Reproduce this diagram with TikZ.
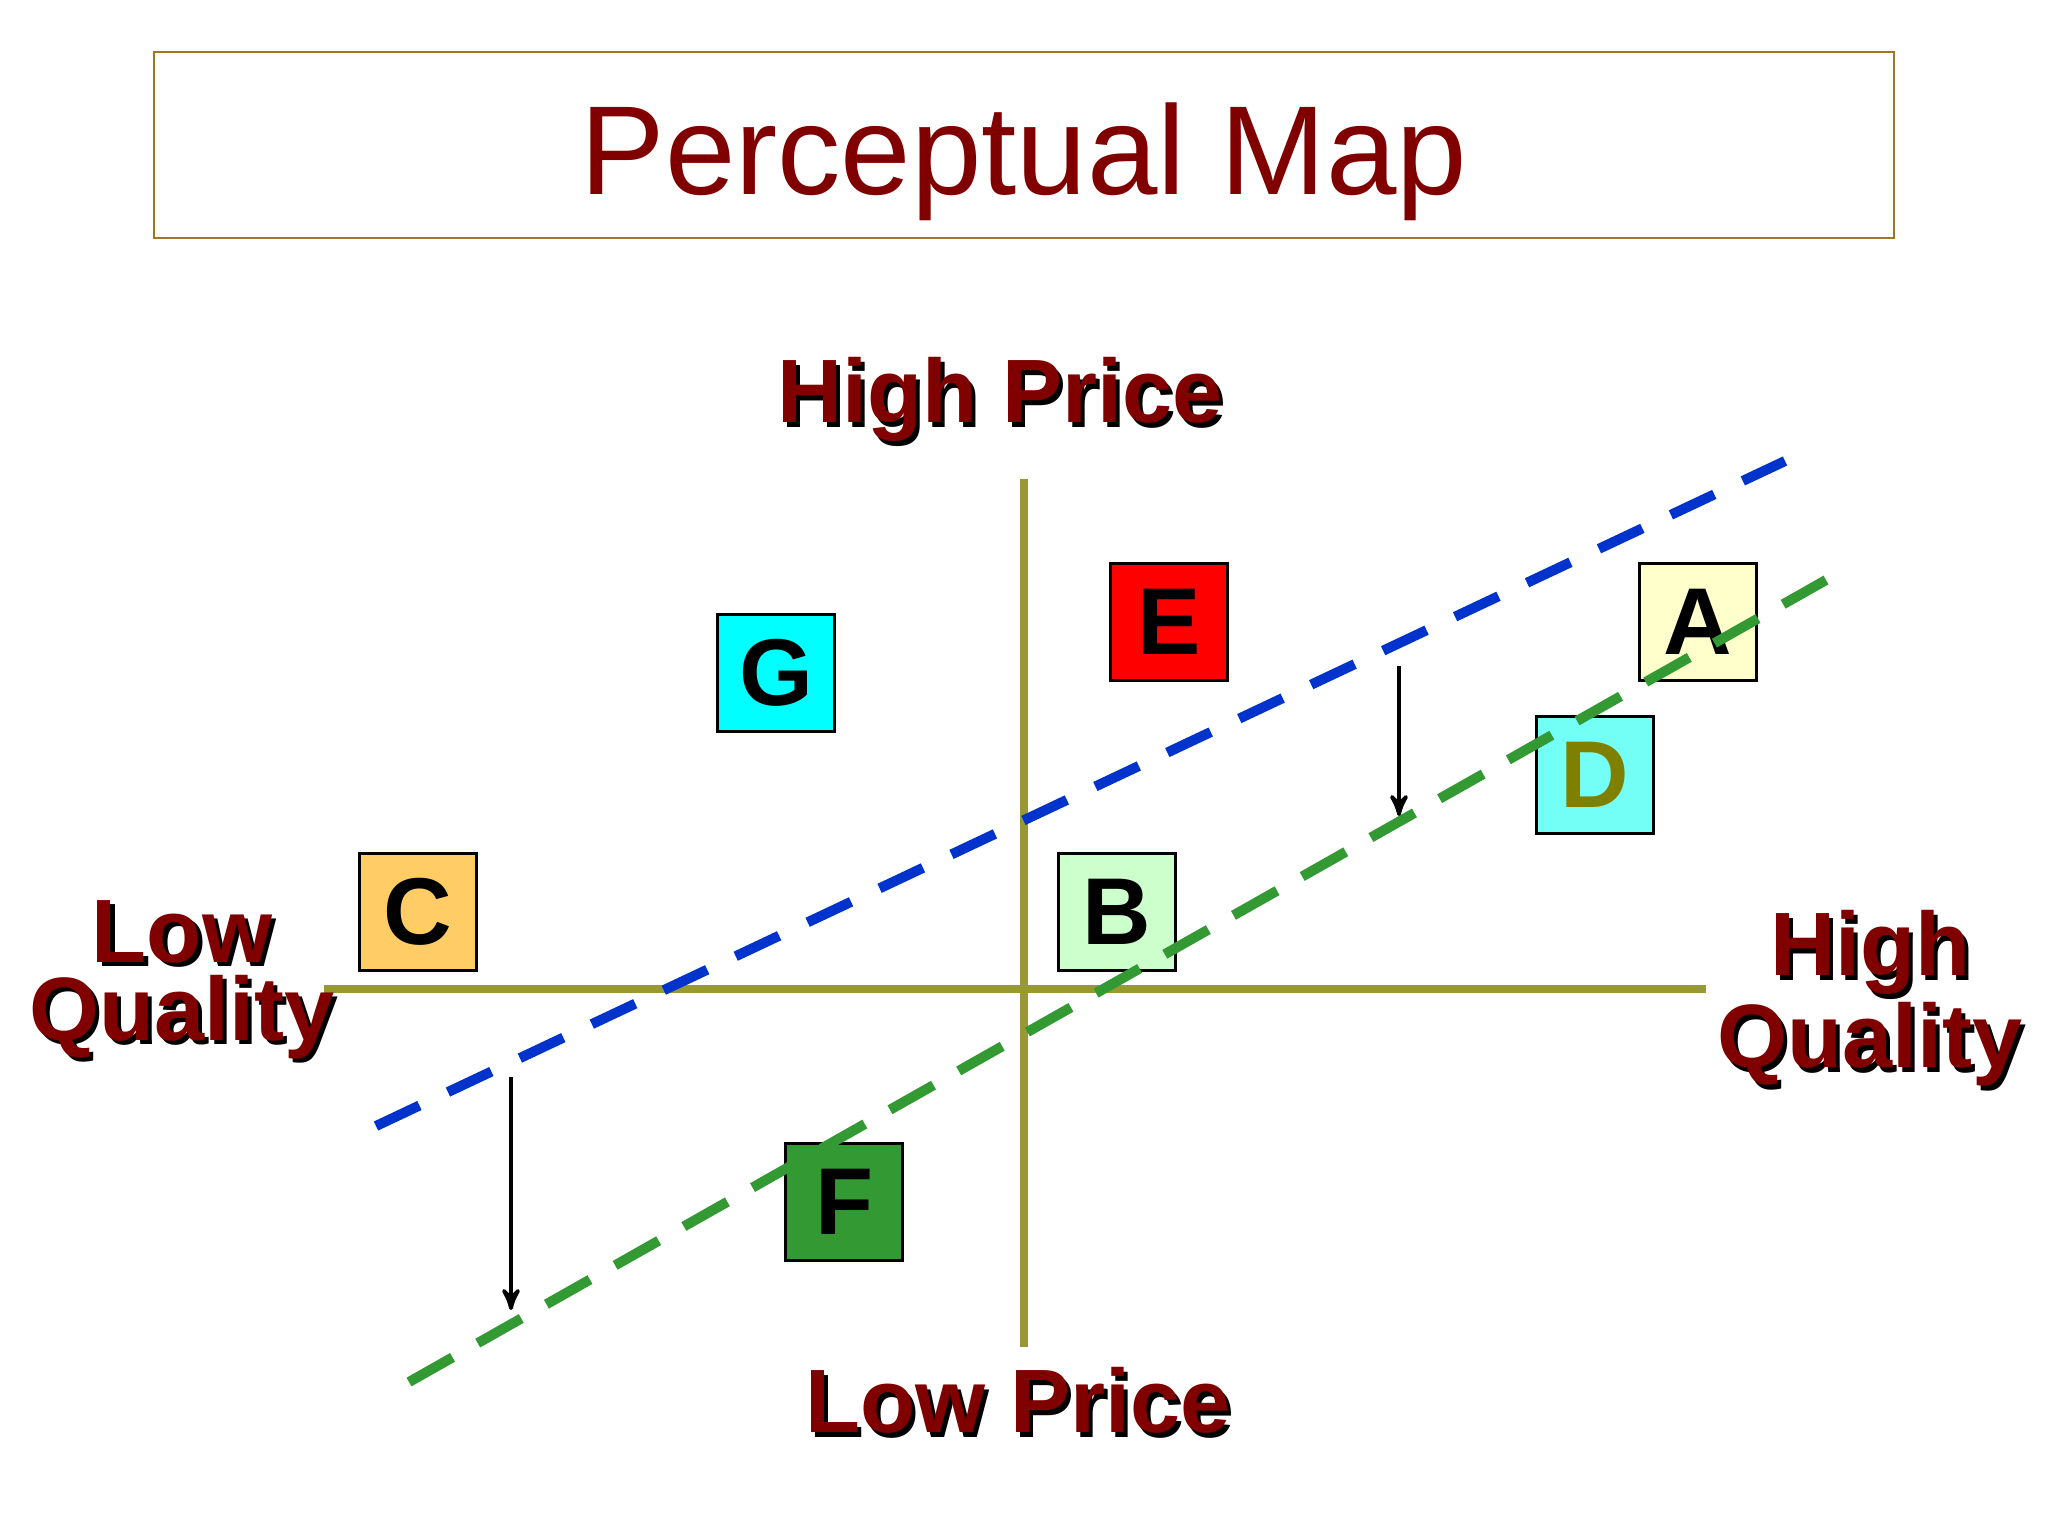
\documentclass[tikz,border=0pt]{standalone}
\usepackage{fontspec}
\setmainfont{Liberation Sans}
\usetikzlibrary{arrows, positioning}

\definecolor{mapred}{HTML}{800000}
\definecolor{mapframe}{HTML}{A07820}
\definecolor{axisolive}{HTML}{999933}
\definecolor{lineblue}{HTML}{0033CC}
\definecolor{linegreen}{HTML}{339933}
\definecolor{olivetext}{HTML}{808000}
\definecolor{brandcyan}{HTML}{00FFFF}

\newcommand{\shadowed}[1]{\rlap{\hspace{1.2pt}\raisebox{-1.2pt}{\color{black}#1}}#1}

\begin{document}
\begin{tikzpicture}[x=0.01cm, y=-0.01cm, >=stealth',
    brand/.style={rectangle, draw, line width=0.75pt, minimum size=1.17cm, inner sep=0pt,
      font=\fontsize{27pt}{27pt}\selectfont\bfseries},
    axislabel/.style={text=mapred, inner sep=0pt, align=center,
      font=\fontsize{25.6pt}{22.2pt}\selectfont\bfseries},
    axisline/.style={axisolive, line width=2.3pt},
    segment/.style={line width=2.85pt}]
  \useasboundingbox[fill=white] (0,0) rectangle (2048,1536);

  % Title
  \draw[mapframe, line width=0.6pt] (154,52) rectangle (1894,238);
  \node[anchor=base, text=mapred, inner sep=0pt, font=\fontsize{36pt}{40pt}\selectfont] (title) at (1024,194) {Perceptual Map};

  % Axes
  \coordinate (hleft) at (324,989);
  \coordinate (hright) at (1706,989);
  \coordinate (vtop) at (1024,479);
  \coordinate (vbot) at (1024,1347);
  \draw[axisline] (hleft) -- (hright);
  \draw[axisline] (vtop) -- (vbot);

  % Axis labels
  \node[axislabel, above=0.32cm of vtop, xshift=-0.24cm] (highprice) {\shadowed{High Price}};
  \node[axislabel, below=0.2cm of vbot, xshift=-0.06cm] (lowprice) {\shadowed{Low Price}};
  \node[axislabel, anchor=north] (lowqual) at (182,900) {\shadowed{Low}\\\shadowed{Quality}};
  \node[axislabel, anchor=north] (highqual) at (1870,910) {\shadowed{High}\\\shadowed{Quality}};

  % Brands
  \node[brand, fill=brandcyan] (brandG) at (776,673) {G};
  \node[brand, fill=red] (brandE) at (1169,622) {E};
  \node[brand, fill={rgb,255:red,255;green,255;blue,204}] (brandA) at (1698,622) {A};
  \node[brand, fill={rgb,255:red,115;green,255;blue,245}, text=olivetext] (brandD) at (1595,775) {D};
  \node[brand, fill={rgb,255:red,255;green,204;blue,102}] (brandC) at (418,912) {C};
  \node[brand, fill={rgb,255:red,204;green,255;blue,204}] (brandB) at (1117,912) {B};
  \node[brand, fill=linegreen] (brandF) at (844,1202) {F};

  % Dashed lines
  \coordinate (blue1) at (376,1126);
  \coordinate (blue2) at (1785,461);
  \coordinate (green1) at (409,1382);
  \coordinate (green2) at (1826,580);
  \draw[segment, lineblue, dash pattern=on 13.66pt off 8.96pt] (blue1) -- (blue2);
  \draw[segment, linegreen, dash pattern=on 14.23pt off 8.22pt] (green1) -- (green2);

  % Shift arrows
  \coordinate (shiftL1) at (511,1077);
  \coordinate (shiftL2) at (511,1310);
  \coordinate (shiftR1) at (1399,666);
  \coordinate (shiftR2) at (1399,816);
  \draw[->, line width=1.1pt] (shiftL1) -- (shiftL2);
  \draw[->, line width=1.1pt] (shiftR1) -- (shiftR2);
\end{tikzpicture}
\end{document}
